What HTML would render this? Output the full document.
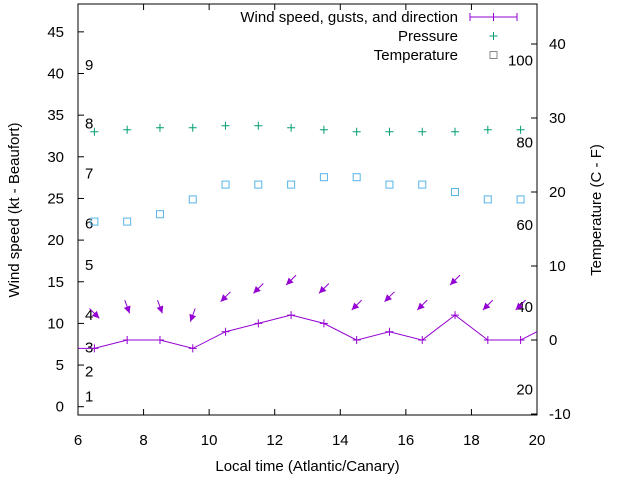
<!DOCTYPE html>
<html><head><meta charset="utf-8"><style>
body{margin:0;background:#fff}
svg{display:block;font-family:"Liberation Sans",sans-serif}
</style></head><body>
<svg id="c" width="640" height="480" viewBox="0 0 640 480"></svg>
<script>
const hours=[5.5,6.5,7.5,8.5,9.5,10.5,11.5,12.5,13.5,14.5,15.5,16.5,17.5,18.5,19.5,20.5];
const windKt=[7,7,8,8,7,9,10,11,10,8,9,8,11,8,8,10];
const gustHours=[6.5,7.5,8.5,9.5,10.5,11.5,12.5,13.5,14.5,15.5,16.5,17.5,18.5,19.5];
const gustKt=[11.2,12,12,11,13.2,14.2,15.2,14.2,12.2,13.2,12.2,15.2,12.2,12.2];
const windDir=[315,340,340,20,45,45,45,45,45,45,45,45,45,45];
const pressureHpa=[1015,1016,1017,1017,1018,1018,1017,1016,1015,1015,1015,1015,1016,1016];
const tempC=[16,16,17,19,21,21,21,22,22,21,21,20,19,19];
const xTicks=[6,8,10,12,14,16,18,20];
const yTicks=[0,5,10,15,20,25,30,35,40,45];
const y2Ticks=[-10,0,10,20,30,40];
const beaufortLabels=["1","2","3","4","5","6","7","8","9"];
const beaufortKt=[1.2,4.2,7.1,11,17,22,28,34,41];
const fahrLabels=["20","40","60","80","100"];

const L=78,R=537,T=4,B=415;
const X=v=>L+(v-6)*(R-L)/14;
const Y=v=>406.7-v*8.33;
const Y2=v=>340-v*7.4;
const svg=document.getElementById('c');
const NS='http://www.w3.org/2000/svg';
function mk(tag,attrs,parent){const e=document.createElementNS(NS,tag);for(const k in attrs)e.setAttribute(k,attrs[k]);(parent||svg).appendChild(e);return e;}
function txt(s,x,y,anchor,size,parent){const t=mk('text',{x:x,y:y,'text-anchor':anchor,'font-size':size,fill:'#000'},parent);t.textContent=s;return t;}

const clip=mk('clipPath',{id:'pc'});mk('rect',{x:L,y:T,width:R-L,height:B-T},clip);
const axes=mk('g',{});


mk('rect',{x:L,y:T,width:R-L,height:B-T,fill:'none',stroke:'#000','stroke-width':1},axes);
xTicks.forEach(v=>{const x=X(v);
  mk('line',{x1:x,y1:B,x2:x,y2:B-6,stroke:'#000'},axes);
  mk('line',{x1:x,y1:T,x2:x,y2:T+6,stroke:'#000'},axes);
  const t=txt(String(v),x,B+30,'middle',15,axes);
  
  });
yTicks.forEach(v=>{const y=Y(v);
  mk('line',{x1:L,y1:y,x2:L+6,y2:y,stroke:'#000'},axes);
  const t=txt(String(v),L-14,y+5,'end',15,axes);
  
  });
y2Ticks.forEach(v=>{const y=Y2(v);
  mk('line',{x1:R,y1:y,x2:R-6,y2:y,stroke:'#000'},axes);
  const t=txt(String(v),R+12,y+5,'start',15,axes);
  
  });
beaufortLabels.forEach((s,i)=>{const t=txt(s,85,Y(beaufortKt[i])+5,'start',15);
  
  });
fahrLabels.forEach(s=>{const f=+s;const c=(f-32)*5/9;const t=txt(s,533,Y2(c)+5,'end',15);
  
  });

let t=txt('Local time (Atlantic/Canary)',(L+R)/2,471,'middle',15);

t=txt('Wind speed (kt - Beaufort)',0,0,'middle',15);t.setAttribute('transform','translate(19,210) rotate(-90)');

t=txt('Temperature (C - F)',0,0,'middle',15);t.setAttribute('transform','translate(601,210) rotate(-90)');


const plot=mk('g',{'clip-path':'url(#pc)'});
const purple='#9400d3';
const wl=mk('polyline',{points:hours.map((h,i)=>X(h)+','+Y(windKt[i])).join(' '),fill:'none',stroke:purple,'stroke-width':1},plot);

hours.forEach((h,i)=>{const x=X(h),y=Y(windKt[i]);
  const p=mk('path',{d:`M${x-4},${y}h8M${x},${y-4}v8`,stroke:purple},plot);
  });
gustHours.forEach((h,i)=>{const cx=X(h),cy=Y(gustKt[i]);const a=(windDir[i]+180)*Math.PI/180;
  const dx=Math.sin(a)*7,dy=-Math.cos(a)*7;const hx=cx+dx,hy=cy+dy;
  const g=mk('g',{},plot);
  
  mk('line',{x1:cx-dx,y1:cy-dy,x2:hx,y2:hy,stroke:purple},g);
  const ux=dx/7,uy=dy/7,px=-uy,py=ux;
  mk('polygon',{points:`${hx},${hy} ${hx-ux*7+px*3.5},${hy-uy*7+py*3.5} ${hx-ux*7-px*3.5},${hy-uy*7-py*3.5}`,fill:purple},g);});
const green='#009e73';
gustHours.forEach((h,i)=>{const x=X(h),y=Y(33+(pressureHpa[i]-1015)*0.24);
  const p=mk('path',{d:`M${x-4},${y}h8M${x},${y-4}v8`,stroke:green},plot);
  });
const blue='#56b4e9';
gustHours.forEach((h,i)=>{const x=X(h),y=Y2(tempC[i]);
  const r=mk('rect',{x:x-3.5,y:y-3.5,width:7,height:7,fill:'none',stroke:blue},plot);
  });

const leg=mk('g',{});

[['Wind speed, gusts, and direction',17],['Pressure',36],['Temperature',55]].forEach(([s,y])=>{const e=txt(s,458,y+5,'end',15,leg);
  });
mk('line',{x1:470,y1:17,x2:517,y2:17,stroke:purple},leg);
mk('path',{d:'M493.5,13v8M470,13v8M517,13v8',stroke:purple},leg);
mk('path',{d:'M489.5,36h8M493.5,32v8',stroke:green},leg);
mk('rect',{x:490,y:51.5,width:7,height:7,fill:'none',stroke:'#888'},leg);
</script>
</body></html>
